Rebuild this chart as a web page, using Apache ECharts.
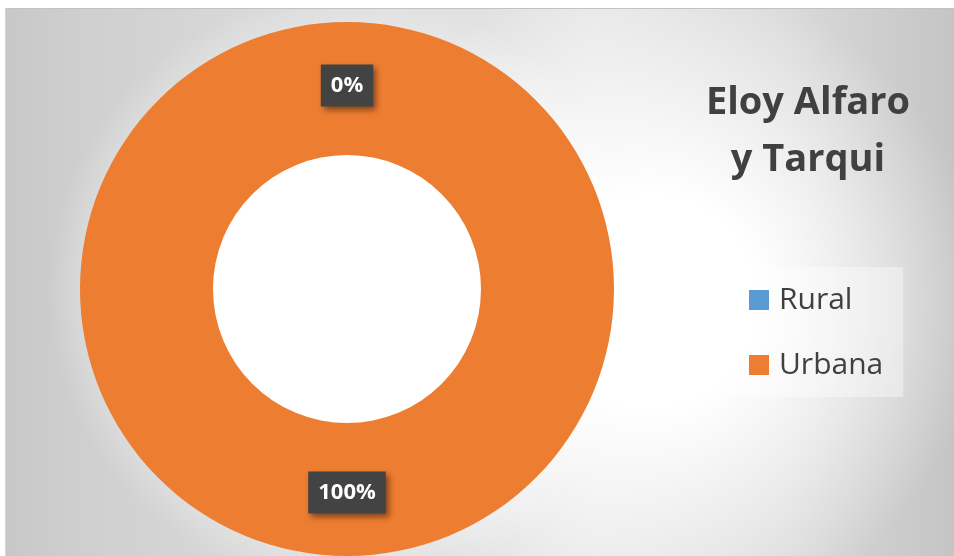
<!DOCTYPE html>
<html>
<head>
<meta charset="utf-8">
<script src="https://cdn.jsdelivr.net/npm/echarts@6/dist/echarts.min.js"></script>
<style>
  html, body { margin: 0; padding: 0; background: #ffffff; width: 954px; height: 556px; overflow: hidden; }
  #frame {
    position: absolute; left: 5px; top: 8px; width: 949px; height: 548px;
    box-sizing: border-box;
    border-top: 1px solid #c2c2c2; border-left: 1px solid #d6d6d6;
    background:
      radial-gradient(circle 300px at 342px 281px, rgba(255,255,255,1) 48%, rgba(255,255,255,0) 100%),
      radial-gradient(ellipse 330px 330px at 645px 292px, rgba(255,255,255,1) 32%, rgba(255,255,255,0) 100%),
      linear-gradient(to right, #c8c8c8 0%, #cfcfcf 8%, #d8d8d8 25%, #e6e6e6 62%, #dadada 82%, #c5c5c5 100%);
  }
  #chart { position: absolute; left: 0; top: 0; width: 954px; height: 556px; }
</style>
</head>
<body>
<div id="frame"></div>
<div id="chart"></div>
<script>
// Share of population by area (percent)
const categories = ['Rural', 'Urbana'];
const shares = [0, 100];
const titleLines = ['Eloy Alfaro', 'y Tarqui'];
const sliceColors = ['#5B9BD5', '#ED7D31'];

const chart = echarts.init(document.getElementById('chart'), null, { renderer: 'canvas' });

const FONT = '"Open Sans", "Noto Sans", sans-serif';

chart.setOption({
  backgroundColor: 'transparent',
  animation: false,
  color: sliceColors,
  title: {
    text: titleLines.join('\n'),
    left: 808,
    top: 75,
    textAlign: 'center',
    padding: 0,
    textStyle: {
      fontFamily: FONT,
      fontWeight: 'bold',
      fontSize: 38,
      lineHeight: 57,
      color: '#404040'
    }
  },
  legend: {
    orient: 'vertical',
    left: 727,
    top: 267,
    padding: [18, 20, 17, 22],
    backgroundColor: 'rgba(255,255,255,0.38)',
    icon: 'rect',
    itemWidth: 20,
    itemHeight: 20,
    itemGap: 35,
    selectedMode: false,
    data: categories,
    textStyle: {
      fontFamily: FONT,
      fontSize: 30,
      lineHeight: 30,
      color: '#404040',
      padding: [0, 0, 0, 5]
    }
  },
  series: [{
    type: 'pie',
    center: [347, 289],
    radius: [134, 267],
    startAngle: 90,
    clockwise: true,
    silent: true,
    avoidLabelOverlap: false,
    itemStyle: { borderWidth: 0 },
    label: {
      show: true,
      position: 'inside',
      formatter: '{c}%',
      fontFamily: FONT,
      fontWeight: 'bold',
      fontSize: 22,
      lineHeight: 24,
      color: '#ffffff',
      backgroundColor: '#434343',
      padding: [9, 10],
      shadowColor: 'rgba(0,0,0,0.45)',
      shadowBlur: 6,
      shadowOffsetX: 3,
      shadowOffsetY: 3
    },
    labelLine: { show: false },
    emphasis: { disabled: true },
    data: categories.map((name, i) => ({ name: name, value: shares[i] }))
  }]
});
</script>
</body>
</html>
